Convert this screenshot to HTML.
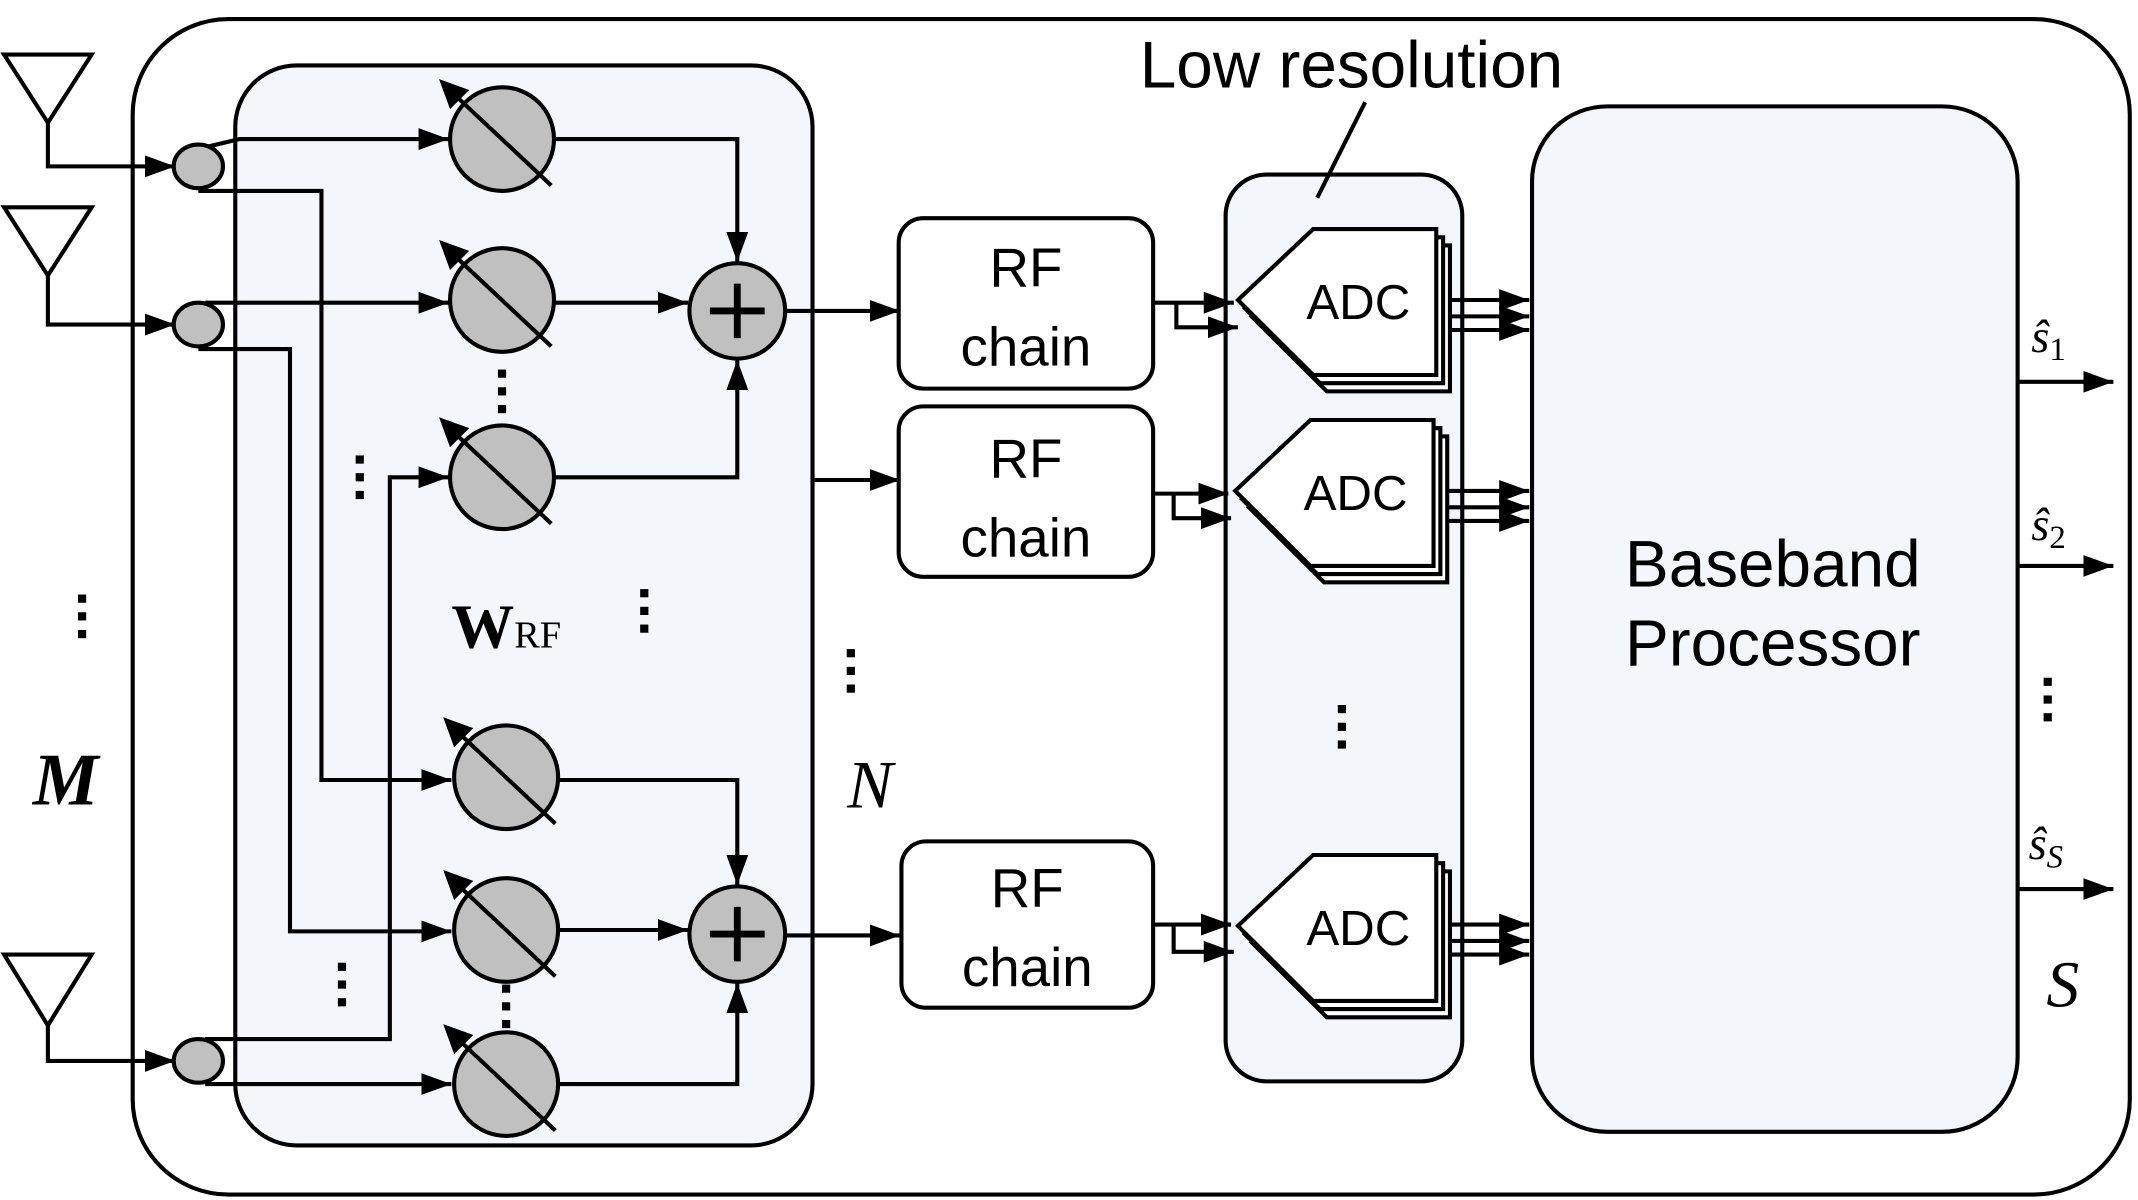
<!DOCTYPE html>
<html><head><meta charset="utf-8"><style>
html,body{margin:0;padding:0;background:#fff;}
svg{display:block;}
.s{font-family:"Liberation Sans",sans-serif;}
.r{font-family:"Liberation Serif",serif;}
</style></head><body>
<svg width="2138" height="1200" viewBox="0 0 1563 880" preserveAspectRatio="none" xmlns="http://www.w3.org/2000/svg">
<defs>
<marker id="b" markerWidth="24" markerHeight="16" refX="22" refY="8" orient="auto" markerUnits="userSpaceOnUse"><path d="M0,0 L22,8 L0,16 z"/></marker>
<g id="ps"><circle r="38" fill="#c0c0c0" stroke="#000" stroke-width="3"/><line x1="-32" y1="-30" x2="36" y2="34" stroke="#000" stroke-width="3"/><path d="M-46,-44 L-24,-36 L-38,-22 z"/></g>
<g id="add"><circle r="35" fill="#c0c0c0" stroke="#000" stroke-width="3"/><line x1="-20" y1="0" x2="20" y2="0" stroke="#000" stroke-width="5"/><line x1="0" y1="-20" x2="0" y2="20" stroke="#000" stroke-width="5"/></g>
<g id="adc"><polygon points="15,52 70,0 160,0 160,107 70,107" fill="#fff" stroke="#000" stroke-width="3" transform="translate(10,12)"/><polygon points="15,52 70,0 160,0 160,107 70,107" fill="#fff" stroke="#000" stroke-width="3" transform="translate(5,6)"/><polygon points="15,52 70,0 160,0 160,107 70,107" fill="#fff" stroke="#000" stroke-width="3"/><text x="103" y="66" font-size="36" text-anchor="middle" class="s">ADC</text></g>
<g id="dots"><rect x="-3" y="-16" width="6" height="6"/><rect x="-3" y="-3" width="6" height="6"/><rect x="-3" y="10" width="6" height="6"/></g>
</defs>
<g fill="none" stroke="#000" stroke-width="3">
<rect x="97" y="14" width="1460" height="862" rx="70" fill="#fff"/>
<rect x="172" y="48" width="422" height="792" rx="45" fill="#f3f6fa"/>
<rect x="896" y="128" width="173" height="665" rx="30" fill="#f3f6fa"/>
<rect x="1120" y="78" width="355" height="752" rx="55" fill="#f3f6fa"/>
<rect x="657" y="160" width="186" height="125" rx="18" fill="#fff"/>
<rect x="657" y="298" width="186" height="125" rx="18" fill="#fff"/>
<rect x="659" y="617" width="184" height="122" rx="18" fill="#fff"/>
<polygon points="3,40 67,40 35,90"/><polyline points="35,90 35,122 128,122" marker-end="url(#b)"/>
<polygon points="3,152 67,152 35,202"/><polyline points="35,202 35,238 128,238" marker-end="url(#b)"/>
<polygon points="3,700 67,700 35,752"/><polyline points="35,752 35,778 128,778" marker-end="url(#b)"/>
<polyline points="150,108 175,102 328,102" marker-end="url(#b)"/>
<polyline points="145,140 235,140 235,572 330,572" marker-end="url(#b)"/>
<polyline points="150,222 328,222" marker-end="url(#b)"/>
<polyline points="145,256 212,256 212,683 330,683" marker-end="url(#b)"/>
<polyline points="150,762 285,762 285,350 328,350" marker-end="url(#b)"/>
<polyline points="150,795 330,795" marker-end="url(#b)"/>
<polyline points="405,102 539,102 539,192" marker-end="url(#b)"/>
<polyline points="405,222 503,222" marker-end="url(#b)"/>
<polyline points="405,350 539,350 539,264" marker-end="url(#b)"/>
<polyline points="408,572 539,572 539,649" marker-end="url(#b)"/>
<polyline points="408,682 503,682" marker-end="url(#b)"/>
<polyline points="408,795 539,795 539,721" marker-end="url(#b)"/>
<polyline points="574,228 658,228" marker-end="url(#b)"/>
<polyline points="594,352 658,352" marker-end="url(#b)"/>
<polyline points="574,686 658,686" marker-end="url(#b)"/>
<polyline points="843,222 880,222" /><polyline points="860,222 860,240 905,240" marker-end="url(#b)"/><polyline points="880,222 902,222" marker-end="url(#b)"/>
<polyline points="843,362 878,362"/><polyline points="858,362 858,380 900,380" marker-end="url(#b)"/><polyline points="878,362 898,362" marker-end="url(#b)"/>
<polyline points="843,678 878,678"/><polyline points="858,678 858,698 902,698" marker-end="url(#b)"/><polyline points="878,678 900,678" marker-end="url(#b)"/>
<polyline points="1052,220 1118,220" marker-end="url(#b)"/><polyline points="1057,232 1118,232" marker-end="url(#b)"/><polyline points="1060,242 1118,242" marker-end="url(#b)"/>
<polyline points="1048,360 1118,360" marker-end="url(#b)"/><polyline points="1053,372 1118,372" marker-end="url(#b)"/><polyline points="1056,382 1118,382" marker-end="url(#b)"/>
<polyline points="1050,678 1118,678" marker-end="url(#b)"/><polyline points="1055,690 1118,690" marker-end="url(#b)"/><polyline points="1058,700 1118,700" marker-end="url(#b)"/>
<polyline points="1475,280 1545,280" marker-end="url(#b)"/>
<polyline points="1475,415 1545,415" marker-end="url(#b)"/>
<polyline points="1475,652 1545,652" marker-end="url(#b)"/>
<line x1="998" y1="75" x2="963" y2="145"/>
</g>
<g fill="#c0c0c0" stroke="#000" stroke-width="3">
<ellipse cx="145" cy="122" rx="18" ry="16"/><ellipse cx="145" cy="238" rx="18" ry="16"/><ellipse cx="145" cy="778" rx="18" ry="16"/>
</g>
<use href="#ps" x="367" y="102"/><use href="#ps" x="367" y="220"/><use href="#ps" x="367" y="350"/>
<use href="#ps" x="370" y="570"/><use href="#ps" x="370" y="682"/><use href="#ps" x="370" y="795"/>
<use href="#add" x="539" y="228"/><use href="#add" x="539" y="685"/>
<use href="#adc" x="890" y="168"/><use href="#adc" x="888" y="308"/><use href="#adc" x="890" y="627"/>
<use href="#dots" x="367" y="287"/><use href="#dots" x="263" y="350"/><use href="#dots" x="60" y="452"/>
<use href="#dots" x="471" y="448"/><use href="#dots" x="622" y="492"/><use href="#dots" x="981" y="533"/>
<use href="#dots" x="1497" y="513"/><use href="#dots" x="250" y="722"/><use href="#dots" x="370" y="738"/>
<g class="s" font-size="40" text-anchor="middle">
<text x="750" y="210">RF</text><text x="750" y="268">chain</text>
<text x="750" y="350">RF</text><text x="750" y="408">chain</text>
<text x="751" y="665">RF</text><text x="751" y="723">chain</text>
<text x="1296" y="430" font-size="48">Baseband</text><text x="1296" y="488" font-size="48">Processor</text>
<text x="988" y="64" font-size="48">Low resolution</text>
</g>
<g class="r" font-style="italic">
<text x="48" y="590" font-size="54" font-weight="bold" text-anchor="middle">M</text>
<text x="636" y="592" font-size="50" text-anchor="middle">N</text>
<text x="1508" y="738" font-size="48" text-anchor="middle">S</text>
<text x="1485" y="258" font-size="34">ŝ<tspan font-size="24" dy="6" font-style="normal">1</tspan></text>
<text x="1485" y="396" font-size="34">ŝ<tspan font-size="24" dy="6" font-style="normal">2</tspan></text>
<text x="1483" y="630" font-size="34">ŝ<tspan font-size="24" dy="6">S</tspan></text>
</g>
<text x="330" y="475" class="r" font-size="46" font-weight="bold">W<tspan font-size="28" font-weight="normal">RF</tspan></text>
</svg>
</body></html>
